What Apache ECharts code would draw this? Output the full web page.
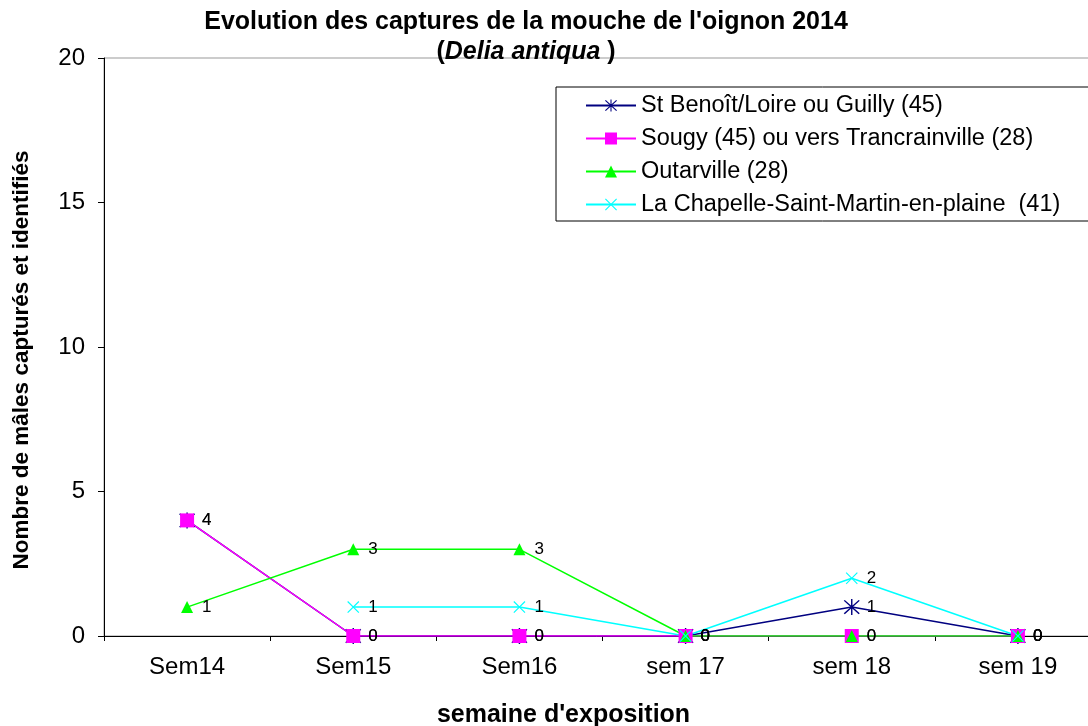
<!DOCTYPE html>
<html>
<head>
<meta charset="utf-8">
<script src="https://cdn.jsdelivr.net/npm/echarts@6/dist/echarts.min.js"></script>
<style>
  html, body { margin: 0; padding: 0; background: #fff; }
  #chart { width: 1088px; height: 726px; }
</style>
</head>
<body>
<div id="chart"></div>
<script>
// weeks and captures per trap
const weeks = ['Sem14', 'Sem15', 'Sem16', 'sem 17', 'sem 18', 'sem 19']
const stBenoit = [4, 0, 0, 0, 1, 0]
const sougy = [4, 0, 0, 0, 0, 0]
const outarville = [1, 3, 3, 0, 0, 0]
const laChapelle = [null, 1, 1, 0, 2, 0]

const FONT = '"Liberation Sans", Arial, sans-serif'

// marker shapes (Excel style)
const asterisk = 'path://M9.2,0 L10.8,0 L10.8,20 L9.2,20 Z M1,2.2 L2.2,1 L19,17.8 L17.8,19 Z M17.8,1 L19,2.2 L2.2,19 L1,17.8 Z'
const cross = 'path://M1,2.2 L2.2,1 L19,17.8 L17.8,19 Z M17.8,1 L19,2.2 L2.2,19 L1,17.8 Z'

const makeSeries = (name, data, color, symbol, size, dist) => ({
  name,
  type: 'line',
  data,
  symbol,
  symbolSize: size,
  showAllSymbol: true,
  lineStyle: { color, width: 1.5 },
  itemStyle: { color, borderWidth: 0 },
  label: {
    show: true,
    position: 'right',
    distance: dist,
    color: '#000',
    fontSize: 17,
    fontFamily: FONT
  },
  emphasis: { disabled: true },
  animation: false
})

const chart = echarts.init(document.getElementById('chart'))
chart.setOption({
  backgroundColor: '#fff',
  title: {
    text: '{b|Evolution des captures de la mouche de l\'oignon 2014}\n{b|(}{i|Delia antiqua}{b| )}',
    left: 526,
    textAlign: 'center',
    top: 7,
    padding: 0,
    textStyle: {
      rich: {
        b: { fontFamily: FONT, fontSize: 25, fontWeight: 'bold', color: '#000', lineHeight: 30 },
        i: { fontFamily: FONT, fontSize: 25, fontWeight: 'bold', fontStyle: 'italic', color: '#000', lineHeight: 30 }
      }
    }
  },
  legend: {
    orient: 'vertical',
    left: 556,
    top: 87,
    padding: [6, 60, 4, 29],
    itemGap: 8,
    itemWidth: 50,
    itemHeight: 15,
    borderColor: '#000',
    borderWidth: 1,
    backgroundColor: '#fff',
    textStyle: { fontFamily: FONT, fontSize: 23.5, color: '#000', lineHeight: 25 },
    data: [
      'St Benoît/Loire ou Guilly (45)',
      'Sougy (45) ou vers Trancrainville (28)',
      'Outarville (28)',
      'La Chapelle-Saint-Martin-en-plaine  (41)'
    ]
  },
  grid: {
    left: 104,
    right: -13,
    top: 58,
    bottom: 90,
    outerBoundsMode: 'none',
    containLabel: false,
    show: true,
    borderColor: '#999',
    borderWidth: 1
  },
  xAxis: {
    type: 'category',
    data: weeks,
    boundaryGap: true,
    name: 'semaine d\'exposition',
    nameLocation: 'middle',
    nameGap: 67,
    nameTextStyle: { fontFamily: FONT, fontSize: 25, fontWeight: 'bold', color: '#000', padding: [0, 78, 0, 0] },
    axisLine: { lineStyle: { color: '#000', width: 1 } },
    axisTick: { show: true, length: 5, lineStyle: { color: '#000' } },
    axisLabel: { fontFamily: FONT, fontSize: 24, color: '#000', margin: 19 },
    splitLine: { show: false }
  },
  yAxis: {
    type: 'value',
    min: 0,
    max: 20,
    interval: 5,
    name: 'Nombre de mâles capturés et identifiés',
    nameLocation: 'middle',
    nameGap: 71,
    nameTextStyle: { fontFamily: FONT, fontSize: 22.5, fontWeight: 'bold', color: '#000', padding: [0, 26, 0, 0] },
    axisLine: { show: true, lineStyle: { color: '#000', width: 1 } },
    axisTick: { show: true, length: 6, lineStyle: { color: '#000' } },
    axisLabel: { fontFamily: FONT, fontSize: 24, color: '#000', margin: 19 },
    splitLine: { show: false }
  },
  series: [
    makeSeries('St Benoît/Loire ou Guilly (45)', stBenoit, '#000080', asterisk, 16, 7),
    makeSeries('Sougy (45) ou vers Trancrainville (28)', sougy, '#ff00ff', 'rect', 14, 8),
    makeSeries('Outarville (28)', outarville, '#00ff00', 'triangle', 12, 9),
    makeSeries('La Chapelle-Saint-Martin-en-plaine  (41)', laChapelle, '#00ffff', cross, 12, 9)
  ]
})
</script>
</body>
</html>
